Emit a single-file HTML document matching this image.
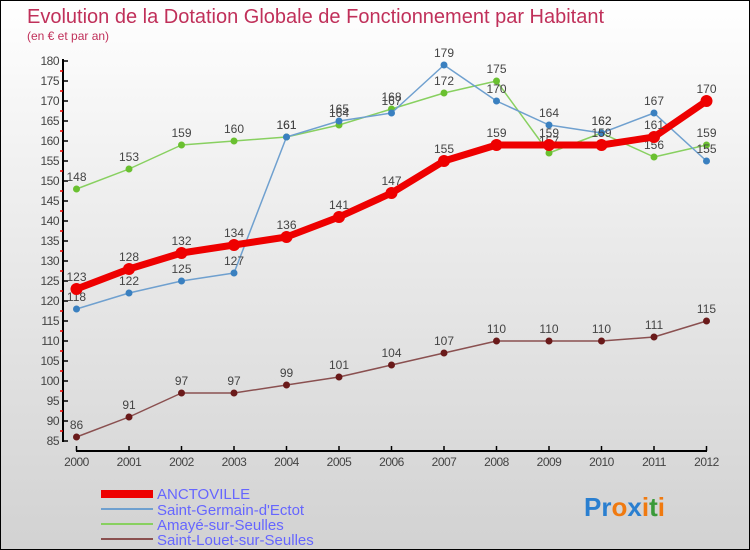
<!DOCTYPE html>
<html><head><meta charset="utf-8"><style>
body{margin:0}
#c{width:750px;height:550px;position:relative;box-sizing:border-box;border:1px solid #000;background:linear-gradient(#fff,#ececec 40%,#d2d2d2);font-family:"Liberation Sans",sans-serif;overflow:hidden}
</style></head><body>
<div id="c">
<svg width="750" height="550" style="position:absolute;left:0;top:0" id="s">
<text x="26" y="22" font-size="20" fill="#c0305a">Evolution de la Dotation Globale de Fonctionnement par Habitant</text>
<text x="26" y="39" font-size="12" fill="#c0305a">(en € et par an)</text>
<g id="ax"></g><g id="ser"></g>
<g font-size="15" fill="#6666ff">
<rect x="100" y="489" width="52" height="8" fill="#e00"/>
<text x="156" y="498">ANCTOVILLE</text>
<line x1="100" x2="152" y1="508" y2="508" stroke="#6fa0cf" stroke-width="2"/>
<text x="156" y="514">Saint-Germain-d'Ectot</text>
<line x1="100" x2="152" y1="523" y2="523" stroke="#88d060" stroke-width="2"/>
<text x="156" y="529">Amayé-sur-Seulles</text>
<line x1="100" x2="152" y1="538" y2="538" stroke="#8a5050" stroke-width="2"/>
<text x="156" y="544">Saint-Louet-sur-Seulles</text>
</g>
<text x="583" y="515" font-size="26" font-weight="bold"><tspan fill="#2a7fd0">Pr</tspan><tspan fill="#f07a10">o</tspan><tspan fill="#2a7fd0">x</tspan><tspan fill="#f07a10">i</tspan><tspan fill="#3a9a3a">t</tspan><tspan fill="#f07a10">i</tspan></text>
</svg>
</div>
<script>
const years=[2000,2001,2002,2003,2004,2005,2006,2007,2008,2009,2010,2011,2012];
const yTicks=[85,90,95,100,105,110,115,120,125,130,135,140,145,150,155,160,165,170,175,180];
const anctoville=[123,128,132,134,136,141,147,155,159,159,159,161,170];
const saintGermain=[118,122,125,127,161,165,167,179,170,164,162,167,155];
const amaye=[148,153,159,160,161,164,168,172,175,157,162,156,159];
const saintLouet=[86,91,97,97,99,101,104,107,110,110,110,111,115];
const NS="http://www.w3.org/2000/svg";
function X(i){return 75.5+i*52.5}
function Y(v){return 440-(v-85)*4}
function mk(t,a,p){const e=document.createElementNS(NS,t);for(const k in a)e.setAttribute(k,a[k]);p.appendChild(e);return e}
const ax=document.getElementById('ax');
const ya=mk('line',{x1:62,x2:62,y1:58,y2:441,stroke:'#000','stroke-width':2},ax);


const xa=mk('line',{x1:75,x2:706,y1:450,y2:450,stroke:'#000','stroke-width':2},ax);


yTicks.forEach(v=>{
 mk('line',{x1:62,x2:67,y1:Y(v),y2:Y(v),stroke:'#000','stroke-width':1.5},ax);
 if(v<180)mk('line',{x1:59,x2:62,y1:Y(v+2.5),y2:Y(v+2.5),stroke:'#e00','stroke-width':1.5},ax);
 const t=mk('text',{x:58,y:Y(v)+4,'text-anchor':'end','font-size':12,fill:'#444','letter-spacing':'-0.5'},ax);
 t.textContent=v;
 
 
});
years.forEach((y,i)=>{
 mk('line',{x1:X(i),x2:X(i),y1:445,y2:450,stroke:'#000','stroke-width':1.5},ax);
 const t=mk('text',{x:X(i),y:465,'text-anchor':'middle','font-size':12,fill:'#444','letter-spacing':'-0.5'},ax);
 t.textContent=y;
 
 
});
const ser=document.getElementById('ser');
function draw(vals,color,w,r,name,dot){
 const g=mk('g',{},ser);
 
 
 const pl=mk('polyline',{points:vals.map((v,i)=>X(i)+','+Y(v)).join(' '),fill:'none',stroke:color,'stroke-width':w,'stroke-linejoin':'round'},g);
 
 
 vals.forEach((v,i)=>{
  const c=mk('circle',{cx:X(i),cy:Y(v),r:r,fill:dot},g);
  
  
  const t=mk('text',{x:X(i),y:Y(v)-8,'text-anchor':'middle','font-size':12,fill:'#444'},g);
  t.textContent=v;
  
  
 });
}
draw(saintLouet,'#8a5050',1.5,3.5,'saint-louet','#6a1a1a');
draw(amaye,'#88d060',1.5,3.5,'amaye','#6ac030');
draw(saintGermain,'#6fa0cf',1.5,3.5,'saint-germain','#3a80c0');
draw(anctoville,'#ee0000',7,6,'anctoville','#ee0000');
</script>
</body></html>
